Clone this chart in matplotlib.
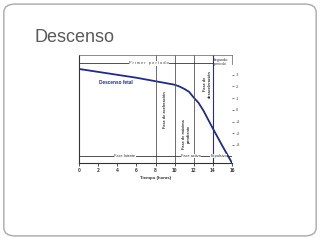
import matplotlib.pyplot as plt
from matplotlib.patches import FancyBboxPatch

# curva de descenso (horas vs. plano/estación)
horas = [0, 2, 4, 6, 8, 9, 10, 10.5, 11, 11.5, 12, 12.5, 13, 14, 15, 16]
estacion = [-3.5, -3.25, -3.0, -2.75, -2.45, -2.3, -2.15, -2.0, -1.8, -1.55, -1.05, -0.6, 0.05, 1.6, 3.1, 4.55]

xticks = [0, 2, 4, 6, 8, 10, 12, 14, 16]
planos = [-3, -2, -1, 0, 1, 2, 3]
plano_labels = ["-3", "-2", "-1", "0", "+1", "+2", "+3"]
limites = [8, 10, 12, 14]

plt.rcParams['font.family'] = ['Liberation Sans', 'DejaVu Sans']

fig = plt.figure(figsize=(3.2, 2.4), dpi=100)

# marco de la diapositiva
frame = FancyBboxPatch((0.012, 0.017), 0.976, 0.966, boxstyle="round,pad=0,rounding_size=0.035",
                       transform=fig.transFigure, fill=False, edgecolor="#a8a8a8", linewidth=1.0)
fig.patches.append(frame)
fig.text(0.108, 0.845, "Descenso", fontsize=13, color="#595959", ha="left", va="center")

ax = fig.add_axes([0.247, 0.321, 0.478, 0.45])
ax.plot(horas, estacion, color="#1f2a8c", linewidth=1.3)
ax.set_xlim(0, 16)
ax.set_ylim(4.55, -4.7)

for x in limites[:3]:
    ax.axvline(x, color="#555555", linewidth=0.6)
ax.axvline(14, color="#2a2f70", linewidth=0.8)

ax.hlines(-4.0, 0, 14, color="#333333", linewidth=0.6)
ax.hlines(3.95, 0, 16, color="#333333", linewidth=0.6)

small = dict(fontsize=2.8, color="#333333", ha="center", va="center")
bb = dict(facecolor="white", edgecolor="none", pad=0.3)
ax.text(7.3, -4.0, "P r i m e r   p e r í o d o", bbox=bb, **small)
ax.text(4.8, 3.95, "Fase latente", bbox=bb, **small)
ax.text(11.7, 3.95, "Fase activa", bbox=bb, **small)
ax.text(14.6, 3.95, "Expulsivo", bbox=bb, **small)
ax.text(14.75, -4.1, "Segundo\nperiodo", **small)
ax.text(8.95, 0.0, "Fase de aceleración", rotation=90, fontweight="bold", **small)
ax.text(11.2, 2.1, "Fase de máxima\npendiente", rotation=90, fontweight="bold", **small)
ax.text(13.4, -2.2, "Fase de\ndesaceleración", rotation=90, fontweight="bold", **small)
ax.text(3.9, -2.3, "Descenso fetal", fontsize=3.4, color="#1f2a8c", fontweight="bold",
        ha="center", va="center")

ax.set_xticks(xticks)
ax.set_xticklabels([str(t) for t in xticks], fontsize=3.5, fontweight="bold", color="#333333")
ax.tick_params(axis="x", length=2, width=0.6, pad=1.5, colors="#333333")
ax.set_xlabel("Tiempo (horas)", fontsize=3.2, fontweight="bold", color="#333333", labelpad=2)

ax.yaxis.tick_right()
ax.set_yticks(planos)
ax.set_yticklabels(plano_labels, fontsize=2.8, color="#444444")
ax.tick_params(axis="y", length=1.5, width=0.5, pad=1.5, colors="#444444")

ax.spines['left'].set_color("#333333")
ax.spines['left'].set_linewidth(0.8)
ax.spines['bottom'].set_color("#333333")
ax.spines['bottom'].set_linewidth(0.8)
ax.spines['top'].set_color("#777777")
ax.spines['top'].set_linewidth(0.6)
ax.spines['right'].set_color("#777777")
ax.spines['right'].set_linewidth(0.6)
ax.spines['right'].set_bounds(-4.7, -3.9)

fig.savefig("out.png", dpi=100)
